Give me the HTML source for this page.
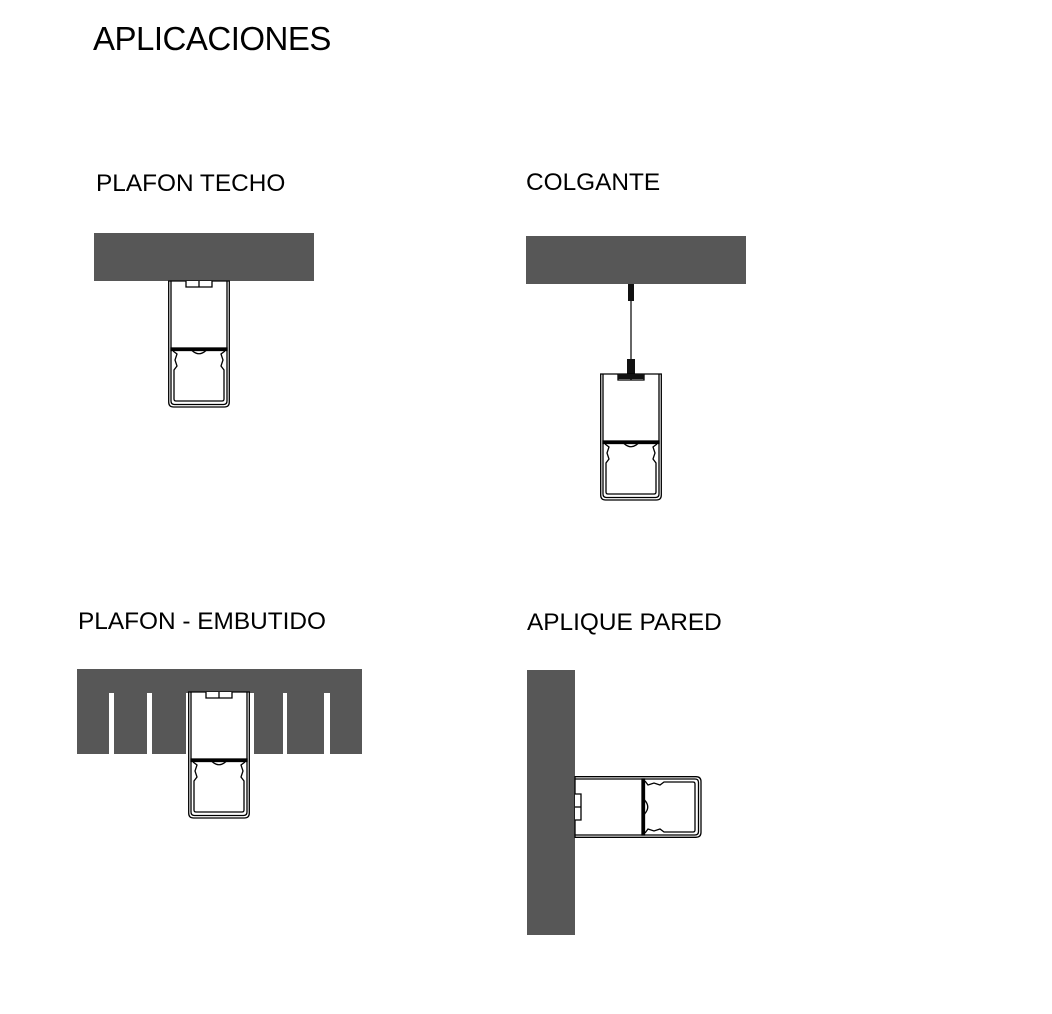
<!DOCTYPE html>
<html><head><meta charset="utf-8"><style>
html,body{margin:0;padding:0;background:#fff;}
body{width:1052px;height:1014px;position:relative;overflow:hidden;font-family:"Liberation Sans",sans-serif;color:#000;}
.t{position:absolute;white-space:nowrap;font-size:24.4px;}
</style></head><body>
<div class="t" style="left:93px;top:20px;font-size:33px;letter-spacing:-0.5px;">APLICACIONES</div>
<div class="t" style="left:96px;top:170px;">PLAFON TECHO</div>
<div class="t" style="left:526px;top:169px;">COLGANTE</div>
<div class="t" style="left:78px;top:608px;">PLAFON - EMBUTIDO</div>
<div class="t" style="left:527px;top:609px;">APLIQUE PARED</div>
<svg width="1052" height="1014" style="position:absolute;left:0;top:0" xmlns="http://www.w3.org/2000/svg">
<defs>
<g id="p" fill="none" stroke="#000" stroke-width="1.3">
<path d="M0.7,0 V121 Q0.7,126 5.7,126 H56.3 Q61.3,126 61.3,121 V0 Z" fill="#fff"/>
<path d="M3,0 V120 Q3,123.5 6.5,123.5 H55.5 Q59,123.5 59,120 V0"/>
<path d="M18,0 V6 H44 V0" fill="#fff"/>
<line x1="31" y1="0" x2="31" y2="6"/>
<rect x="3" y="67" width="56" height="2.5" fill="#000"/>
<path d="M24,69.5 Q31,76 38,69.5"/>
<path d="M5,70 L9,73 L7,79 L9,85 L6,89 V118 Q6,120 8,120 H54 Q56,120 56,118 V89 L53,85 L55,79 L53,73 L57,70"/>
</g>
</defs>
<rect x="94" y="233" width="220" height="48" fill="#575757"/>
<use href="#p" x="168" y="281"/>
<rect x="526" y="236" width="220" height="48" fill="#575757"/>
<rect x="628" y="284" width="6" height="17" fill="#111"/>
<line x1="631" y1="301" x2="631" y2="360" stroke="#000" stroke-width="1.2"/>
<rect x="627" y="359" width="8" height="19" fill="#111"/>
<use href="#p" x="600" y="374"/>
<rect x="618" y="374" width="26" height="5" fill="#111"/>
<path d="M77,669 H362 V754 H330 V693 H324 V754 H287 V693 H283 V754 H254 V693 H186 V754 H152 V693 H147 V754 H114 V693 H109 V754 H77 Z" fill="#575757"/>
<use href="#p" x="188" y="692"/>
<rect x="527" y="670" width="48" height="265" fill="#575757"/>
<g transform="translate(575,838) rotate(-90)"><use href="#p" x="0" y="0"/></g>
</svg>
</body></html>
